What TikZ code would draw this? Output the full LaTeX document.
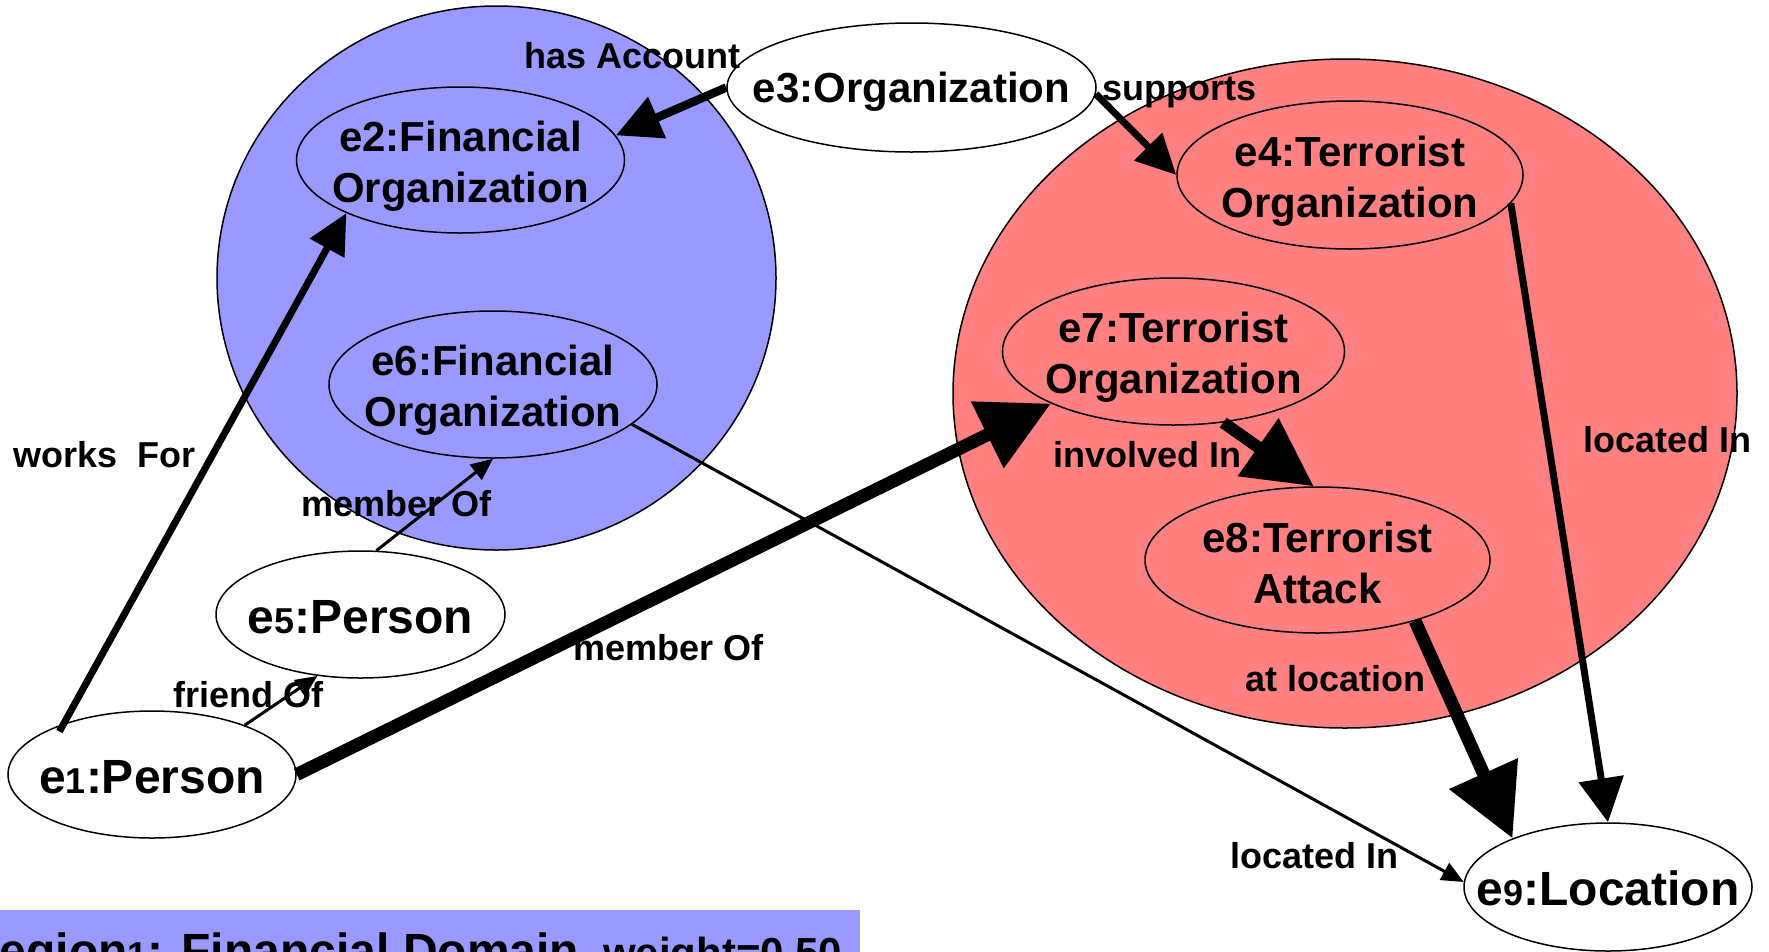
\documentclass[tikz,border=0pt]{standalone}
\usepackage{fontspec}
\setmainfont{Liberation Sans}
\usetikzlibrary{shapes.geometric,arrows.meta}

\definecolor{finblue}{RGB}{153,153,255}
\definecolor{terred}{RGB}{255,128,128}

% smaller digit inside an entity name
\newcommand\dg[1]{{\fontsize{36}{36}\selectfont #1}}

\tikzset{
  region/.style={ellipse, draw=black, line width=1.5pt, inner sep=0pt},
  ent/.style={ellipse, draw=black, line width=1.5pt, inner sep=0pt},
  enttxt/.style={font=\bfseries\fontsize{42}{51}\selectfont, align=center, inner sep=0pt},
  bigtxt/.style={font=\bfseries\fontsize{48}{58}\selectfont, inner sep=0pt},
  rel/.style={font=\bfseries\fontsize{36}{43}\selectfont, inner sep=0pt, anchor=base west},
  link/.style={draw=black, line cap=butt},
  thinlink/.style={link, line width=3pt, -{Triangle[length=22pt,width=19pt]}},
}

\begin{document}
\begin{tikzpicture}[x=1pt,y=-1pt]
\useasboundingbox (0,0) rectangle (1769,951);

% domain regions
\node[region, fill=finblue, minimum width=559pt, minimum height=544pt] (r1) at (496.5,278) {};
\node[region, fill=terred, minimum width=784pt, minimum height=669pt] (r2) at (1345,393.5) {};

% entities
\node[ent, fill=finblue, minimum width=328pt, minimum height=146pt] (e2) at (460.5,160) {};
\node[ent, fill=finblue, minimum width=328pt, minimum height=147pt] (e6) at (493,384.5) {};
\node[ent, fill=white, minimum width=369pt, minimum height=129pt] (e3) at (911.5,87.5) {};
\node[ent, fill=terred, minimum width=346pt, minimum height=148pt] (e4) at (1350,175) {};
\node[ent, fill=terred, minimum width=342pt, minimum height=147pt] (e7) at (1173.5,351.5) {};
\node[ent, fill=terred, minimum width=345pt, minimum height=146pt] (e8) at (1317.5,560) {};
\node[ent, fill=white, minimum width=289pt, minimum height=127pt] (e5) at (360.5,614.5) {};
\node[ent, fill=white, minimum width=288pt, minimum height=127pt] (e1) at (152,774.5) {};
\node[ent, fill=white, minimum width=288pt, minimum height=128pt] (e9) at (1608,887) {};

% entity names
\node[enttxt, yshift=-6pt] (t2) at (e2) {e2:Financial\\Organization};
\node[enttxt, yshift=-6pt] (t6) at (e6) {e6:Financial\\Organization};
\node[enttxt, yshift=-4.5pt] (t3) at (e3) {e3:Organization};
\node[enttxt, yshift=-6pt] (t4) at (e4) {e4:Terrorist\\Organization};
\node[enttxt, yshift=-6pt] (t7) at (e7) {e7:Terrorist\\Organization};
\node[enttxt, yshift=-3pt] (t8) at (e8) {e8:Terrorist\\Attack};
\node[bigtxt, yshift=-3pt] (t5) at (e5) {e\dg{5}:Person};
\node[bigtxt, yshift=-3pt] (t1) at (e1) {e\dg{1}:Person};
\node[bigtxt, yshift=-1pt] (t9) at (e9) {e\dg{9}:Location};

% relations
\draw[link, line width=7pt, shorten <=-9pt, -{Triangle[length=40pt,width=38pt]}] (e1.150) -- (e2.205);
\draw[thinlink] (e1.28) -- (e5.235);
\draw[thinlink] (e5.76) -- (e6.270);
\draw[link, line width=8.5pt, -{Triangle[length=45pt,width=43pt]}] (e3.180) -- (e2.9);
\draw[link, line width=7pt, -{Triangle[length=40pt,width=38pt]}] (e3.358) -- (e4.180);
\draw[link, line width=13pt, -{Triangle[length=71pt,width=71pt]}] (e1.0) -- (e7.203.5);
\draw[link, line width=12pt, -{Triangle[length=68pt,width=68pt]}] (e7.305) -- (e8.93);
\draw[link, line width=7pt, -{Triangle[length=44pt,width=44pt]}] (e4.350) -- (e9.90);
\draw[link, line width=13pt, -{Triangle[length=71pt,width=72pt]}] (e8.328) -- (e9.153);
\draw[thinlink] (e6.344.6) -- (e9.178);

% relation names
\node[rel] (l1) at (13,467) {works\hspace{0.55em}For};
\node[rel] (l2) at (173,707) {friend Of};
\node[rel] (l3) at (301,516) {member Of};
\node[rel] (l4) at (524,68) {has Account};
\node[rel] (l5) at (1102,100) {supports};
\node[rel] (l6) at (573,660) {member Of};
\node[rel] (l7) at (1053,467) {involved In};
\node[rel] (l8) at (1583,452) {located In};
\node[rel] (l9) at (1245,691) {at location};
\node[rel] (l10) at (1230,868) {located In};

% legend band
\node[fill=finblue, inner sep=0pt, anchor=north west, minimum width=860pt, minimum height=60pt] (band) at (0,910) {};
\node[anchor=base west, inner sep=0pt, font=\bfseries] (bandtxt) at (-35,967)
  {\fontsize{48}{58}\selectfont Region\dg{1}: Financial Domain\hspace{24pt}\fontsize{42}{50}\selectfont weight=0.50};
\end{tikzpicture}
\end{document}
